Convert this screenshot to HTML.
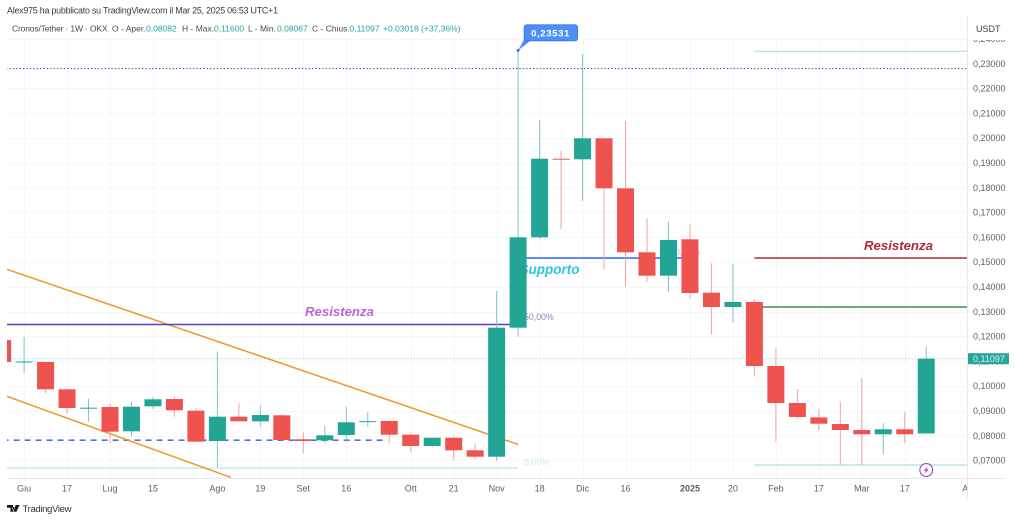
<!DOCTYPE html>
<html lang="it">
<head>
<meta charset="utf-8">
<title>Cronos/Tether chart</title>
<style>
html,body{margin:0;padding:0;background:#fff;width:1024px;height:520px;overflow:hidden}
svg{display:block;font-family:"Liberation Sans",sans-serif}
</style>
</head>
<body>
<svg id="chart" xmlns="http://www.w3.org/2000/svg" width="1024" height="520" viewBox="0 0 1024 520">
  <defs>
    <clipPath id="plot-clip"><rect x="7" y="39" width="960" height="439"/></clipPath>
    <clipPath id="time-clip"><rect x="0" y="478" width="967" height="22"/></clipPath>
    <clipPath id="scale-clip"><rect x="968" y="40" width="56" height="440"/></clipPath>
  </defs>
  <text x="7" y="13.5" font-size="8.9" fill="#3a3a3a" textLength="271">Alex975 ha pubblicato su TradingView.com il Mar 25, 2025 06:53 UTC+1</text>
  <text y="31.5" font-size="8.5" fill="#4a4a4a"><tspan x="12" letter-spacing="-0.16">Cronos/Tether · 1W · OKX</tspan><tspan x="112">O - Aper.</tspan><tspan x="146" fill="#26a69a">0,08082</tspan><tspan x="182">H - Max.</tspan><tspan x="214" fill="#26a69a">0,11600</tspan><tspan x="248">L - Min.</tspan><tspan x="277" fill="#26a69a">0,08067</tspan><tspan x="312">C - Chius.</tspan><tspan x="349.5" fill="#26a69a">0,11097</tspan><tspan x="383" fill="#26a69a">+0,03018 (+37,36%)</tspan></text>
  <g id="grid"></g>
  <g id="drawings" clip-path="url(#plot-clip)"></g>
  <g id="candles" clip-path="url(#plot-clip)"></g>
  <g id="overlay"></g>
  <line x1="7" y1="478.5" x2="1004" y2="478.5" stroke="#e6e8ec"/>
  <line x1="967.5" y1="16" x2="967.5" y2="498" stroke="#e6e8ec"/>
  <g id="x-axis" clip-path="url(#time-clip)"></g>
  <g id="y-axis" clip-path="url(#scale-clip)"></g>
  <text x="976" y="32" font-size="9" fill="#444">USDT</text>
  <g>
    <rect id="last-box" x="968" width="41" height="11" fill="#26a69a"/>
    <text id="last-text" x="973" font-size="9" fill="#d8f3ef"></text>
  </g>
  <g>
    <path d="M7 505h6v6.7h-2.6v-4H7zM13.6 507a1.4 1.4 0 1 0 0.01 0zM15.6 505h4l-3.2 6.7h-3z" fill="#131722"/>
    <text x="22.5" y="512" font-size="9.6" fill="#333" textLength="49">TradingView</text>
  </g>
</svg>
<script>
/* Weekly OHLC series */
const opens  = [.11851,.10964,.10964,.09863,.09109,.09149,.08169,.09177,.09472,.09000,.07778,.08758,.08572,.08814,.07847,.07806,.08020,.08572,.08585,.08032,.07576,.07911,.07403,.07145,.12347,.15992,.19161,.19137,.19984,.17968,.15387,.14443,.15911,.13758,.13181,.13383,.10802,.09310,.08730,.08463,.08222,.08048,.08250,.08082];
const highs  = [.11851,.11972,.10964,.09890,.09484,.09298,.09363,.09540,.09564,.09096,.11367,.09298,.09201,.08867,.08129,.08383,.09161,.08935,.08625,.08129,.07911,.07992,.07685,.13827,.23531,.20722,.19472,.23383,.19984,.20681,.16758,.16621,.16516,.14943,.14915,.13492,.11516,.09875,.09068,.09363,.10306,.08492,.08960,.11600];
const lows   = [.10964,.10520,.09714,.08867,.08556,.07697,.07980,.09068,.08758,.07750,.06701,.08572,.08355,.07818,.07282,.07685,.07750,.08355,.07685,.07322,.07524,.07012,.07040,.06971,.11984,.15923,.16327,.17468,.14702,.13976,.14201,.13798,.13532,.12080,.12564,.10371,.07750,.08693,.08193,.06810,.06810,.07242,.07685,.08067];
const closes = [.10964,.10984,.09863,.09109,.09121,.08153,.09161,.09460,.09016,.07750,.08758,.08572,.08826,.07818,.07778,.08008,.08532,.08580,.08032,.07576,.07911,.07403,.07145,.12347,.15992,.19161,.19137,.19984,.17968,.15387,.14443,.15883,.13746,.13181,.13383,.10802,.09310,.08746,.08475,.08222,.08048,.08250,.08048,.11097];

const priceTicks = [.24,.23,.22,.21,.20,.19,.18,.17,.16,.15,.14,.13,.12,.11,.10,.09,.08,.07];
const timeTickBars = [1,3,5,7,10,12,14,16,19,21,23,25,27,29,32,34,36,38,40,42,45];
const timeTickLabels = ["Giu","17","Lug","15","Ago","19","Set","16","Ott","21","Nov","18","Dic","16","2025","20","Feb","17","Mar","17","Apr"];

const lastPrice = 0.11097;
const pointedPrice = 0.23531;
const pointedBar = 24;

const X0 = 2.6, STEP = 21.48, BODY = 17;
const Y230 = 63.5, PX_PER_UNIT = 2480;
function xOf(bar){ return X0 + bar * STEP; }
function yOf(price){ return Y230 + (0.23 - price) * PX_PER_UNIT; }
function fmt(p){ return p.toFixed(5).replace('.', ','); }

const NS = 'http://www.w3.org/2000/svg';
function make(tag, parent, attrs){
  const el = document.createElementNS(NS, tag);
  for (const k in attrs) el.setAttribute(k, attrs[k]);
  parent.appendChild(el);
  return el;
}

/* Grid */
const grid = document.getElementById('grid');
priceTicks.forEach(function(p){
  const y = Math.round(yOf(p)) + 0.5;
  const l = make('line', grid, {x1:7, x2:967, y1:y, y2:y, stroke:'#f6f7f8'});
  
  
});
timeTickBars.forEach(function(b){
  if (xOf(b) > 967) return;
  const x = Math.round(xOf(b)) + 0.5;
  const l = make('line', grid, {x1:x, x2:x, y1:39, y2:478, stroke:'#f6f7f8'});
  
  
});

/* Drawings: bar index + price anchored */
const drawings = document.getElementById('drawings');
function seg(name, b1, p1, b2, p2, stroke, width, dash){
  const l = make('line', drawings, {x1:xOf(b1), y1:yOf(p1), x2:xOf(b2), y2:yOf(p2), stroke:stroke, 'stroke-width':width});
  if (dash) l.setAttribute('stroke-dasharray', dash);
  
  
  return l;
}
seg('last-price-line', 0, lastPrice, 45, lastPrice, '#7fcfc6', 1, '1 2');
seg('dotted-level-023', 0, .22796, 45, .22796, '#4a5fa8', 1.2, '1.4 2');
seg('range-top-line', 35, .23488, 45, .23488, '#b5e6e6', 1.2);
seg('channel-bottom-level', 0, .06680, 24, .06680, '#c9eeee', 1.6);
seg('range-bottom-line', 35, .06810, 45, .06810, '#a5e2e6', 1.2);
seg('dashed-support-line', 0, .07810, 17.75, .07810, '#5470d6', 1.6, '6 5');
seg('channel-upper-line', 0.2, .14700, 24, .07640, '#f0962e', 1.5);
seg('channel-lower-line', 0.2, .09580, 10.63, .06310, '#f0962e', 1.5);
seg('resistance-line-purple', 0, .12475, 24, .12475, '#5e3fbe', 1.5);
seg('support-line-blue', 24, .15156, 32, .15156, '#2962ff', 1.5);
seg('resistance-line-red', 35, .15156, 45, .15156, '#b2283a', 1.5);
seg('resistance-line-green', 35, .13181, 45, .13181, '#3d9142', 1.5);

function label(parent, name, str, x, y, size, fill, extra){
  const t = make('text', parent, Object.assign({x:x, y:y, 'font-size':size, fill:fill}, extra || {}));
  t.textContent = str;
  
  
  return t;
}
const bold = {'font-style':'italic','font-weight':'700'};
label(drawings, 'supporto-label', 'Supporto', 519.5, 274, 13.5, '#2cc6dc', bold);
label(drawings, 'fib-50-label-left', '50,00%', 524, 320, 8.8, '#8f7fc4');
label(drawings, 'fib-0-label', '0,00%', 524, 465, 8.8, '#c6ecec');
label(drawings, 'fib-50-label-right', '50,00%', 670, 255, 8.8, '#a9b6f2');

/* Candles */
const candles = document.getElementById('candles');
opens.forEach(function(o, i){
  const c = closes[i];
  const up = c >= o;
  const x = xOf(i);
  const wick = make('line', candles, {x1:x, x2:x, y1:yOf(highs[i]), y2:yOf(lows[i]), stroke: up ? '#7cc7bd' : '#f5a3a2', 'stroke-width':1});
  
  
  const top = yOf(Math.max(o, c));
  const h = Math.max(Math.abs(yOf(o) - yOf(c)), 1);
  const body = make('rect', candles, {x:x - BODY / 2, y:top, width:BODY, height:h, fill: up ? '#22a595' : '#ef5350'});
  
  
});

/* Annotation text and callouts above candles */
const overlay = document.getElementById('overlay');
label(overlay, 'resistenza-label-left', 'Resistenza', 305, 316, 13.2, '#b768d6', bold);
label(overlay, 'resistenza-label-right', 'Resistenza', 864, 250, 13.2, '#b2283a', bold);

const tipX = xOf(pointedBar), tipY = yOf(pointedPrice);
const tail = make('polygon', overlay, {points:[tipX, tipY, tipX + 6, tipY - 11, tipX + 14, tipY - 11].join(' '), fill:'#4d8ff8'});


const dot = make('circle', overlay, {cx:tipX, cy:tipY, r:1.4, fill:'#2962ff'});


const box = make('rect', overlay, {x:tipX + 6, y:tipY - 25.5, width:53.5, height:16, rx:2.5, fill:'#4d8ff8', stroke:'#2f73f0', 'stroke-width':0.8});


label(overlay, 'price-callout-text', fmt(pointedPrice), tipX + 13, tipY - 14, 9.6, '#ffffff', {'font-weight':'700', 'letter-spacing':'0.6'});

const flashCx = xOf(43), flashCy = 470;
const flash = make('circle', overlay, {cx:flashCx, cy:flashCy, r:6.4, fill:'#fff', stroke:'#a33fc0', 'stroke-width':1.1});


const bolt = make('polygon', overlay, {points:[flashCx + 1.6, flashCy - 3.6, flashCx - 2.4, flashCy + 0.6, flashCx - 0.2, flashCy + 0.6, flashCx - 1.6, flashCy + 3.6, flashCx + 2.4, flashCy - 0.8, flashCx + 0.2, flashCy - 0.8].join(' '), fill:'#a33fc0'});



/* Axes */
const yAxis = document.getElementById('y-axis');
priceTicks.forEach(function(p){
  const t = make('text', yAxis, {x:973, y:yOf(p) + 3.3, 'font-size':9, fill:'#5c5f66'});
  t.textContent = fmt(p);
  
  
});
const xAxis = document.getElementById('x-axis');
timeTickBars.forEach(function(b, i){
  const t = make('text', xAxis, {x:xOf(b), y:491.5, 'font-size':9, fill:'#5c5f66', 'text-anchor':'middle'});
  if (timeTickLabels[i] === '2025') t.setAttribute('font-weight', '700');
  t.textContent = timeTickLabels[i];
  
  
});

document.getElementById('last-box').setAttribute('y', yOf(lastPrice) - 5.5);
const lastText = document.getElementById('last-text');
lastText.setAttribute('y', yOf(lastPrice) + 3.2);
lastText.textContent = fmt(lastPrice);
</script>
</body>
</html>
